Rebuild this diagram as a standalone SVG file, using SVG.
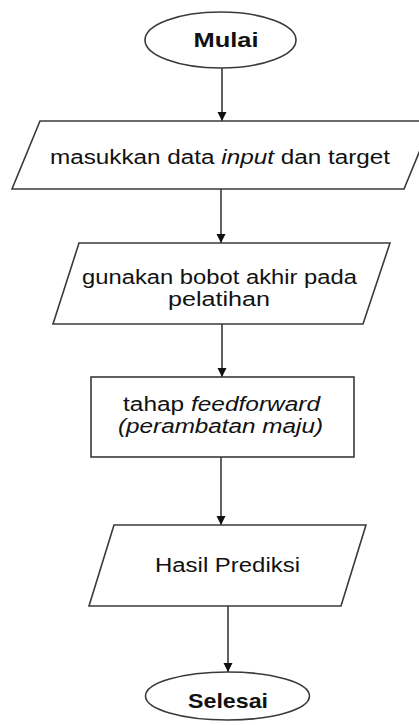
<svg xmlns="http://www.w3.org/2000/svg" width="419" height="725" viewBox="0 0 419 725">
<defs>
<style>
.shape{fill:#fff;stroke:#3a3a3a;stroke-width:1.6}
.conn{stroke:#3a3a3a;stroke-width:1.6;fill:none}
.t{font-family:"Liberation Sans",Arial,sans-serif;font-size:20px;fill:#111;text-anchor:middle}
.b{font-weight:bold;font-size:21px}
.i{font-style:italic}
</style>
<marker id="ah" markerWidth="10" markerHeight="10" refX="9" refY="5" orient="auto" markerUnits="userSpaceOnUse">
<path d="M0,0.5 L9,5 L0,9.5 Z" fill="#111"/>
</marker>
</defs>
<rect width="419" height="725" fill="#fff"/>
<g id="connectors">
<line class="conn" x1="222" y1="68" x2="222" y2="121" marker-end="url(#ah)"/>
<line class="conn" x1="221" y1="189" x2="221" y2="243" marker-end="url(#ah)"/>
<line class="conn" x1="222" y1="324" x2="222" y2="377" marker-end="url(#ah)"/>
<line class="conn" x1="221" y1="457" x2="221" y2="525" marker-end="url(#ah)"/>
<line class="conn" x1="228" y1="606" x2="228" y2="672" marker-end="url(#ah)"/>
</g>
<g id="mulai">
<ellipse class="shape" cx="220.5" cy="40" rx="75.5" ry="28"/>
<text class="t b" x="226" y="47" textLength="65" lengthAdjust="spacingAndGlyphs">Mulai</text>
</g>
<g id="input">
<polygon class="shape" points="40,121 432,121 404,189 12,189"/>
<text class="t" x="220" y="164" textLength="340" lengthAdjust="spacingAndGlyphs">masukkan data <tspan class="i">input</tspan> dan target</text>
</g>
<g id="bobot">
<polygon class="shape" points="79,243 390,243 363,324 53,324"/>
<text class="t" x="219.5" y="284" textLength="275" lengthAdjust="spacingAndGlyphs">gunakan bobot akhir pada</text>
<text class="t" x="219" y="306" textLength="102" lengthAdjust="spacingAndGlyphs">pelatihan</text>
</g>
<g id="feedforward">
<rect class="shape" x="91" y="377" width="263" height="80"/>
<text class="t" x="221.5" y="411" textLength="197" lengthAdjust="spacingAndGlyphs">tahap <tspan class="i">feedforward</tspan></text>
<text class="t i" x="220.5" y="433" textLength="205" lengthAdjust="spacingAndGlyphs">(perambatan maju)</text>
</g>
<g id="hasil">
<polygon class="shape" points="114,525 366,525 341,606 89,606"/>
<text class="t" x="227.5" y="572" textLength="145" lengthAdjust="spacingAndGlyphs">Hasil Prediksi</text>
</g>
<g id="selesai">
<ellipse class="shape" cx="227.5" cy="696" rx="82" ry="24"/>
<text class="t b" x="228" y="708" textLength="80" lengthAdjust="spacingAndGlyphs">Selesai</text>
</g>
</svg>
